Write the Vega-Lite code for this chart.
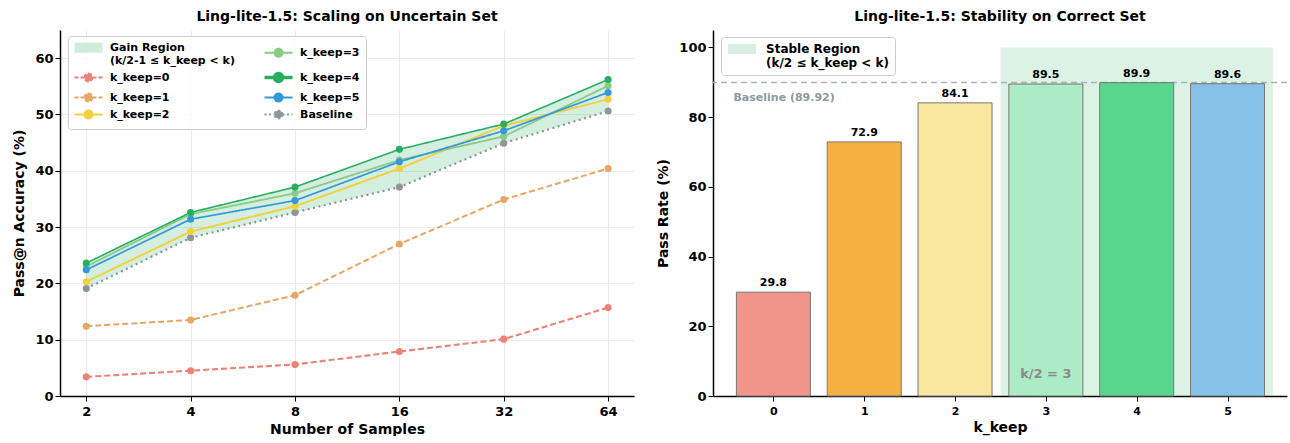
{
  "$schema": "https://vega.github.io/schema/vega-lite/v6.json",
  "padding": {"left": 12, "top": 10, "right": 0, "bottom": 0},
  "background": "white",
  "config": {
    "font": "DejaVu Sans",
    "view": {"stroke": null},
    "title": {"fontSize": 14, "fontWeight": "bold", "offset": 6, "color": "black"},
    "axis": {
      "labelFontWeight": "bold", "labelFontSize": 13, "labelColor": "black",
      "titleFontWeight": "bold", "titleFontSize": 14, "titleColor": "black",
      "domainColor": "black", "domainWidth": 1.5, "tickColor": "black", "tickSize": 5,
      "gridColor": "#ebebeb", "gridWidth": 1
    },
    "legend": {"labelFontWeight": "bold", "labelFontSize": 11, "labelColor": "black"}
  },
  "spacing": 22,
  "resolve": {"scale": {"color": "independent", "fill": "independent"}, "legend": {"color": "independent"}},
  "hconcat": [
    {
      "width": 574,
      "height": 366,
      "title": "Ling-lite-1.5: Scaling on Uncertain Set",
      "data": {"values": [
        {"n": 2, "series": "Baseline", "acc": 19.1},
        {"n": 4, "series": "Baseline", "acc": 28.1},
        {"n": 8, "series": "Baseline", "acc": 32.6},
        {"n": 16, "series": "Baseline", "acc": 37.1},
        {"n": 32, "series": "Baseline", "acc": 44.9},
        {"n": 64, "series": "Baseline", "acc": 50.6},
        {"n": 2, "series": "k_keep=0", "acc": 3.4},
        {"n": 4, "series": "k_keep=0", "acc": 4.5},
        {"n": 8, "series": "k_keep=0", "acc": 5.6},
        {"n": 16, "series": "k_keep=0", "acc": 7.9},
        {"n": 32, "series": "k_keep=0", "acc": 10.1},
        {"n": 64, "series": "k_keep=0", "acc": 15.7},
        {"n": 2, "series": "k_keep=1", "acc": 12.4},
        {"n": 4, "series": "k_keep=1", "acc": 13.5},
        {"n": 8, "series": "k_keep=1", "acc": 17.9},
        {"n": 16, "series": "k_keep=1", "acc": 27.0},
        {"n": 32, "series": "k_keep=1", "acc": 34.9},
        {"n": 64, "series": "k_keep=1", "acc": 40.4},
        {"n": 2, "series": "k_keep=2", "acc": 20.3},
        {"n": 4, "series": "k_keep=2", "acc": 29.2},
        {"n": 8, "series": "k_keep=2", "acc": 33.7},
        {"n": 16, "series": "k_keep=2", "acc": 40.4},
        {"n": 32, "series": "k_keep=2", "acc": 48.0},
        {"n": 64, "series": "k_keep=2", "acc": 52.7},
        {"n": 2, "series": "k_keep=3", "acc": 23.0},
        {"n": 4, "series": "k_keep=3", "acc": 32.3},
        {"n": 8, "series": "k_keep=3", "acc": 36.0},
        {"n": 16, "series": "k_keep=3", "acc": 41.9},
        {"n": 32, "series": "k_keep=3", "acc": 46.1},
        {"n": 64, "series": "k_keep=3", "acc": 55.1},
        {"n": 2, "series": "k_keep=5", "acc": 22.4},
        {"n": 4, "series": "k_keep=5", "acc": 31.4},
        {"n": 8, "series": "k_keep=5", "acc": 34.7},
        {"n": 16, "series": "k_keep=5", "acc": 41.6},
        {"n": 32, "series": "k_keep=5", "acc": 47.1},
        {"n": 64, "series": "k_keep=5", "acc": 53.9},
        {"n": 2, "series": "k_keep=4", "acc": 23.6},
        {"n": 4, "series": "k_keep=4", "acc": 32.6},
        {"n": 8, "series": "k_keep=4", "acc": 37.1},
        {"n": 16, "series": "k_keep=4", "acc": 43.8},
        {"n": 32, "series": "k_keep=4", "acc": 48.3},
        {"n": 64, "series": "k_keep=4", "acc": 56.2}
      ]},
      "layer": [
        {
          "transform": [
            {"filter": "datum.series === 'Baseline' || datum.series === 'k_keep=4'"},
            {"pivot": "series", "value": "acc", "groupby": ["n"]}
          ],
          "mark": {"type": "area", "fillOpacity": 0.2},
          "encoding": {
            "x": {"field": "n", "type": "quantitative"},
            "y": {"field": "Baseline", "type": "quantitative"},
            "y2": {"field": "k_keep=4"},
            "color": {"datum": "Gain Region"}
          }
        },
        {
          "mark": {"type": "line"},
          "encoding": {
            "x": {"field": "n", "type": "quantitative"},
            "y": {"field": "acc", "type": "quantitative"},
            "color": {"field": "series"},
            "strokeDash": {"field": "series", "type": "nominal", "legend": null,
              "scale": {"domain": ["Baseline", "k_keep=0", "k_keep=1", "k_keep=2", "k_keep=3", "k_keep=5", "k_keep=4"],
                        "range": [[2, 3.5], [6, 3], [6, 3], [1, 0], [1, 0], [1, 0], [1, 0]]}},
            "strokeWidth": {"field": "series", "type": "ordinal", "legend": null,
              "scale": {"domain": ["Baseline", "k_keep=0", "k_keep=1", "k_keep=2", "k_keep=3", "k_keep=5", "k_keep=4"],
                        "range": [2.2, 1.6, 1.6, 2, 2, 2, 3.4]}}
          }
        },
        {
          "mark": {"type": "point", "filled": true, "opacity": 1, "size": 50},
          "encoding": {
            "x": {"field": "n", "type": "quantitative", "scale": {"type": "log", "base": 2, "domain": [1.68, 76], "nice": false},
              "axis": {"values": [2, 4, 8, 16, 32, 64], "grid": true, "title": "Number of Samples", "labelPadding": 4, "titlePadding": 4}},
            "y": {"field": "acc", "type": "quantitative", "scale": {"domain": [0, 65], "nice": false},
              "axis": {"values": [0, 10, 20, 30, 40, 50, 60], "grid": true, "title": "Pass@n Accuracy (%)", "titlePadding": 8}},
            "color": {"field": "series", "type": "nominal",
              "scale": {"domain": ["Gain Region", "k_keep=0", "k_keep=1", "k_keep=2", "k_keep=3", "k_keep=4", "k_keep=5", "Baseline"],
                        "range": ["#27AE60", "#EE8276", "#E9A564", "#F4D03F", "#8ACB88", "#27AE60", "#3498DB", "#8D9797"]},
              "legend": {
                "title": null, "orient": "none", "legendX": 8, "legendY": 6, "columns": 2, "columnPadding": 22, "rowPadding": 0,
                "padding": 6, "fillColor": "rgba(255,255,255,0.85)", "strokeColor": "#cccccc", "cornerRadius": 3,
                "symbolSize": 100, "symbolOffset": 9, "labelOffset": 16,
                "labelExpr": "datum.value === 'Gain Region' ? ['Gain Region', '(k/2-1 ≤ k_keep < k)'] : datum.label",
                "encoding": {"symbols": {
                  "shape": {"value": {"expr": "datum.value === 'Gain Region' ? 'M-2.8,-1L2.8,-1L2.8,1L-2.8,1Z' : 'M-2.8,0L-0.8,0M0.8,0L2.8,0M0.8,0A0.8,0.8 0 1 1 -0.8,0A0.8,0.8 0 1 1 0.8,0'"}},
                  "strokeDash": {"value": {"expr": "datum.value === 'Baseline' ? [2, 2.5] : (datum.value === 'k_keep=0' || datum.value === 'k_keep=1') ? [4, 2] : [1, 0]"}},
                  "strokeWidth": {"value": {"expr": "datum.value === 'Gain Region' ? 0 : datum.value === 'k_keep=4' ? 3.4 : 2"}},
                  "opacity": {"value": {"expr": "datum.value === 'Gain Region' ? 0.22 : 1"}}
                }}
              }}
          }
        }
      ]
    },
    {
      "width": 574,
      "height": 366,
      "title": "Ling-lite-1.5: Stability on Correct Set",
      "layer": [
        {
          "data": {"values": [{"label": "Stable Region", "start": 2.5, "end": 5.5, "low": 0, "high": 100}]},
          "mark": {"type": "rect", "opacity": 0.16},
          "encoding": {
            "x": {"field": "start", "type": "quantitative"},
            "x2": {"field": "end"},
            "y": {"field": "low", "type": "quantitative"},
            "y2": {"field": "high"},
            "color": {"field": "label", "type": "nominal", "scale": {"range": ["#27AE60"]},
              "legend": {
                "title": null, "orient": "none", "legendX": 8, "legendY": 7, "padding": 6,
                "fillColor": "rgba(255,255,255,0.85)", "strokeColor": "#cccccc", "cornerRadius": 3,
                "symbolSize": 100, "symbolOffset": 9, "labelOffset": 18, "labelFontSize": 12,
                "labelExpr": "['Stable Region', '(k/2 ≤ k_keep < k)']",
                "encoding": {"symbols": {
                  "shape": {"value": "M-2.8,-1L2.8,-1L2.8,1L-2.8,1Z"},
                  "opacity": {"value": 0.18}, "strokeWidth": {"value": 0}
                }}
              }}
          }
        },
        {
          "data": {"values": [{"value": 89.92}]},
          "mark": {"type": "rule", "color": "#A9B1B3", "strokeDash": [6, 4], "strokeWidth": 1.6},
          "encoding": {"y": {"field": "value", "type": "quantitative"}}
        },
        {
          "data": {"values": [{"x": -0.44, "y": 85.5, "text": "Baseline (89.92)"}]},
          "mark": {"type": "text", "align": "left", "baseline": "middle", "fontSize": 11, "fontWeight": "bold", "color": "#8E9A9D"},
          "encoding": {
            "x": {"field": "x", "type": "quantitative"},
            "y": {"field": "y", "type": "quantitative"},
            "text": {"field": "text"}
          }
        },
        {
          "data": {"name": "bars", "values": [
            {"k": 0, "rate": 29.8},
            {"k": 1, "rate": 72.9},
            {"k": 2, "rate": 84.1},
            {"k": 3, "rate": 89.5},
            {"k": 4, "rate": 89.9},
            {"k": 5, "rate": 89.6}
          ]},
          "mark": {"type": "bar", "size": 74, "stroke": "#777777", "strokeWidth": 1},
          "encoding": {
            "x": {"field": "k", "type": "quantitative", "scale": {"domain": [-0.61, 5.6], "nice": false, "zero": false},
              "axis": {"values": [0, 1, 2, 3, 4, 5], "format": "d", "labelFontSize": 11, "grid": false, "title": "k_keep", "labelPadding": 4, "titlePadding": 4}},
            "y": {"field": "rate", "type": "quantitative", "scale": {"domain": [0, 105], "nice": false},
              "axis": {"values": [0, 20, 40, 60, 80, 100], "grid": false, "title": "Pass Rate (%)", "titlePadding": 8}},
            "fill": {"field": "k", "type": "nominal", "legend": null,
              "scale": {"domain": [0, 1, 2, 3, 4, 5], "range": ["#F1948A", "#F5B041", "#F9E79F", "#ABEBC6", "#58D68D", "#85C1E9"]}}
          }
        },
        {
          "data": {"name": "bars"},
          "mark": {"type": "text", "baseline": "bottom", "dy": -4, "fontSize": 11, "fontWeight": "bold", "color": "black"},
          "encoding": {
            "x": {"field": "k", "type": "quantitative"},
            "y": {"field": "rate", "type": "quantitative"},
            "text": {"field": "rate", "type": "quantitative", "format": ".1f"}
          }
        },
        {
          "data": {"values": [{"x": 3, "y": 6.3, "text": "k/2 = 3"}]},
          "mark": {"type": "text", "align": "center", "baseline": "middle", "fontSize": 13, "fontWeight": "bold", "color": "#8A8A8A"},
          "encoding": {
            "x": {"field": "x", "type": "quantitative"},
            "y": {"field": "y", "type": "quantitative"},
            "text": {"field": "text"}
          }
        }
      ]
    }
  ]
}
